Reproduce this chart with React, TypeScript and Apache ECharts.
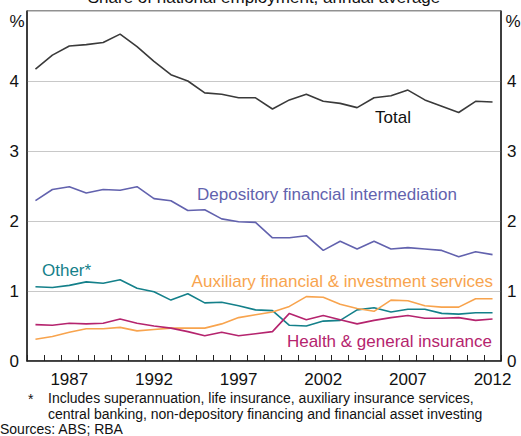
import React, { useEffect, useRef } from "react";
import * as echarts from "echarts";

const years: string[] = [
  "1985","1986","1987","1988","1989","1990","1991","1992","1993","1994",
  "1995","1996","1997","1998","1999","2000","2001","2002","2003","2004",
  "2005","2006","2007","2008","2009","2010","2011","2012",
];

const total: number[] = [
  4.17, 4.37, 4.5, 4.52, 4.55, 4.67, 4.49, 4.28, 4.09, 4.0,
  3.83, 3.81, 3.76, 3.76, 3.6, 3.73, 3.81, 3.71, 3.68, 3.62,
  3.76, 3.79, 3.87, 3.73, 3.64, 3.55, 3.71, 3.7,
];

const depository: number[] = [
  2.29, 2.45, 2.49, 2.4, 2.45, 2.44, 2.49, 2.32, 2.29, 2.15,
  2.16, 2.03, 1.99, 1.98, 1.76, 1.76, 1.79, 1.58, 1.71, 1.6,
  1.71, 1.6, 1.62, 1.6, 1.58, 1.49, 1.56, 1.52,
];

const other: number[] = [
  1.06, 1.05, 1.08, 1.13, 1.11, 1.16, 1.04, 0.99, 0.87, 0.96,
  0.83, 0.84, 0.79, 0.73, 0.72, 0.51, 0.5, 0.57, 0.58, 0.73,
  0.76, 0.7, 0.74, 0.74, 0.68, 0.67, 0.69, 0.69,
];

const auxiliary: number[] = [
  0.31, 0.35, 0.41, 0.46, 0.46, 0.48, 0.43, 0.45, 0.47, 0.47,
  0.47, 0.53, 0.62, 0.66, 0.7, 0.78, 0.92, 0.91, 0.81, 0.75,
  0.71, 0.87, 0.86, 0.79, 0.77, 0.77, 0.89, 0.89,
];

const health: number[] = [
  0.52, 0.51, 0.54, 0.53, 0.54, 0.6, 0.54, 0.5, 0.47, 0.42,
  0.36, 0.41, 0.36, 0.39, 0.42, 0.68, 0.59, 0.65, 0.59, 0.53,
  0.58, 0.62, 0.65, 0.61, 0.61, 0.62, 0.58, 0.6,
];

const yTicks: number[] = [0, 1, 2, 3, 4];

const FONT = "Arial, 'Liberation Sans', sans-serif";
const C_TOTAL = "#3a3a3a";
const C_DEP = "#6262ae";
const C_OTHER = "#14808a";
const C_AUX = "#f8a44e";
const C_HEALTH = "#b5246e";

export default function App() {
  const ref = useRef<HTMLDivElement>(null);

  useEffect(() => {
    document.body.style.margin = "0";
    if (!ref.current) return;
    const chart = echarts.init(ref.current, undefined, { renderer: "svg" });

    const yAxisCommon = {
      type: "value" as const,
      min: 0,
      max: 5,
      interval: 1,
      axisLine: { show: true, lineStyle: { color: "#222", width: 1.5 } },
      axisTick: { show: false },
      splitLine: { show: true, lineStyle: { color: "#c8c8c8", width: 1 } },
      axisLabel: {
        fontSize: 17,
        color: "#111",
        fontFamily: FONT,
        formatter: (v: number) => (yTicks.includes(v) ? String(v) : ""),
      },
    };

    const text = (
      str: string,
      x: number,
      y: number,
      color: string,
      size = 17,
      align: string = "left",
      vAlign: string = "middle"
    ) => ({
      type: "text",
      x,
      y,
      silent: true,
      style: {
        text: str,
        fill: color,
        fontSize: size,
        fontFamily: FONT,
        align,
        verticalAlign: vAlign,
      },
    });

    const line = (name: string, data: number[], color: string) => ({
      name,
      type: "line",
      data,
      symbol: "none",
      lineStyle: { color, width: 1.6 },
      itemStyle: { color },
      z: 3,
    });

    chart.setOption({
      animation: false,
      backgroundColor: "#fff",
      grid: {
        left: 27,
        right: 20,
        top: 11,
        bottom: 75,
        show: true,
        borderColor: "#222",
        borderWidth: 1,
      },
      xAxis: {
        type: "category",
        data: years,
        boundaryGap: true,
        axisLine: { show: true, lineStyle: { color: "#222", width: 1.5 } },
        axisTick: {
          show: true,
          inside: true,
          length: 6,
          interval: 0,
          lineStyle: { color: "#222", width: 1 },
        },
        axisLabel: {
          interval: (idx: number) => (idx - 2) % 5 === 0,
          fontSize: 17,
          color: "#111",
          fontFamily: FONT,
          margin: 10,
        },
        splitLine: { show: false },
      },
      yAxis: [
        { ...yAxisCommon, position: "left", axisLabel: { ...yAxisCommon.axisLabel, margin: 8 } },
        { ...yAxisCommon, position: "right", axisLabel: { ...yAxisCommon.axisLabel, margin: 6 } },
      ],
      series: [
        line("Total", total, C_TOTAL),
        line("Depository financial intermediation", depository, C_DEP),
        line("Other*", other, C_OTHER),
        line("Auxiliary financial & investment services", auxiliary, C_AUX),
        line("Health & general insurance", health, C_HEALTH),
      ],
      graphic: [
        text("Share of national employment, annual average", 264, 6, "#111", 17, "center", "bottom"),
        text("%", 17, 21, "#111", 17, "center"),
        text("%", 513, 21, "#111", 17, "center"),
        text("Total", 393, 117, "#111", 17, "center"),
        text("Depository financial intermediation", 197, 194, C_DEP, 17, "left"),
        text("Other*", 42, 270, C_OTHER, 17, "left"),
        text("Auxiliary financial & investment services", 493, 281, C_AUX, 17, "right"),
        text("Health & general insurance", 492, 341, C_HEALTH, 17, "right"),
        text("*", 28, 399, "#111", 14, "left"),
        text("Includes superannuation, life insurance, auxiliary insurance services,", 48, 398, "#111", 14, "left"),
        text("central banking, non-depository financing and financial asset investing", 48, 414, "#111", 14, "left"),
        text("Sources: ABS; RBA", 0, 429, "#111", 14, "left"),
      ],
    });

    return () => chart.dispose();
  }, []);

  return <div ref={ref} style={{ width: 521, height: 436 }} />;
}
